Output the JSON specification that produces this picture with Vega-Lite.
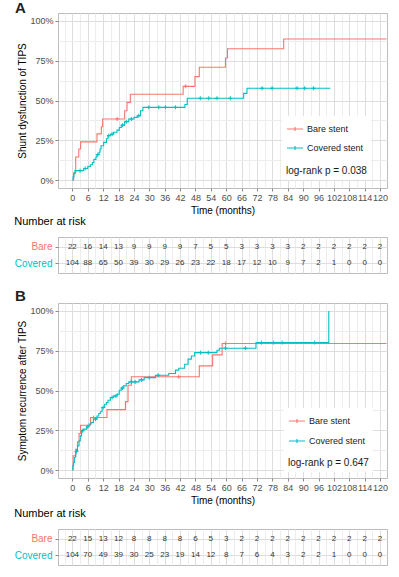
{
  "$schema": "https://vega.github.io/schema/vega-lite/v6.json",
  "background": "white",
  "padding": {"left": 13, "top": 0, "right": 0, "bottom": 0},
  "spacing": 14,
  "resolve": {"scale": {"x": "independent", "y": "independent", "color": "independent"}, "axis": {"x": "independent", "y": "independent"}, "legend": {"color": "independent"}},
  "config": {
    "font": "Liberation Sans",
    "view": {"stroke": "#BDBDBD", "strokeWidth": 1},
    "axis": {"labelFont": "Liberation Sans", "labelFontSize": 9, "labelColor": "#4D4D4D", "titleFont": "Liberation Sans", "titleFontSize": 10, "titleFontWeight": "normal", "titleColor": "#000000", "tickColor": "#888888", "tickSize": 3, "domain": false, "labelOverlap": false, "labelFlush": false},
    "title": {"font": "Liberation Sans"},
    "legend": {"labelFont": "Liberation Sans", "titleFont": "Liberation Sans"}
  },
  "datasets": {
    "a": [
      {"g": "Bare stent", "t": 0, "s": 0, "c": 0},
      {"g": "Bare stent", "t": 0.5, "s": 4.5, "c": 0},
      {"g": "Bare stent", "t": 1.3, "s": 14.5, "c": 0},
      {"g": "Bare stent", "t": 2.5, "s": 19.5, "c": 0},
      {"g": "Bare stent", "t": 3.2, "s": 24, "c": 0},
      {"g": "Bare stent", "t": 9.6, "s": 29, "c": 0},
      {"g": "Bare stent", "t": 11.3, "s": 33.5, "c": 0},
      {"g": "Bare stent", "t": 11.8, "s": 38.4, "c": 0},
      {"g": "Bare stent", "t": 17.5, "s": 38.4, "c": 1},
      {"g": "Bare stent", "t": 20.4, "s": 43.6, "c": 0},
      {"g": "Bare stent", "t": 21.3, "s": 48.8, "c": 0},
      {"g": "Bare stent", "t": 22.6, "s": 53.9, "c": 0},
      {"g": "Bare stent", "t": 43.2, "s": 58.9, "c": 0},
      {"g": "Bare stent", "t": 44.2, "s": 58.9, "c": 1},
      {"g": "Bare stent", "t": 47.8, "s": 65, "c": 0},
      {"g": "Bare stent", "t": 49.5, "s": 70.9, "c": 0},
      {"g": "Bare stent", "t": 59.7, "s": 76.7, "c": 0},
      {"g": "Bare stent", "t": 60.5, "s": 82.5, "c": 0},
      {"g": "Bare stent", "t": 82.4, "s": 88.7, "c": 0},
      {"g": "Bare stent", "t": 122.5, "s": 88.7, "c": 0},
      {"g": "Covered stent", "t": 0, "s": 0, "c": 0},
      {"g": "Covered stent", "t": 0.3, "s": 2, "c": 0},
      {"g": "Covered stent", "t": 0.6, "s": 4, "c": 0},
      {"g": "Covered stent", "t": 1, "s": 5.9, "c": 0},
      {"g": "Covered stent", "t": 3, "s": 5.9, "c": 1},
      {"g": "Covered stent", "t": 4.4, "s": 7.3, "c": 0},
      {"g": "Covered stent", "t": 5, "s": 7.3, "c": 1},
      {"g": "Covered stent", "t": 6, "s": 8.5, "c": 0},
      {"g": "Covered stent", "t": 7, "s": 9.6, "c": 0},
      {"g": "Covered stent", "t": 7.8, "s": 11, "c": 0},
      {"g": "Covered stent", "t": 8.4, "s": 13, "c": 0},
      {"g": "Covered stent", "t": 9.2, "s": 14.5, "c": 0},
      {"g": "Covered stent", "t": 9.6, "s": 16, "c": 0},
      {"g": "Covered stent", "t": 9.9, "s": 16, "c": 1},
      {"g": "Covered stent", "t": 10.4, "s": 17.5, "c": 0},
      {"g": "Covered stent", "t": 10.8, "s": 19.5, "c": 0},
      {"g": "Covered stent", "t": 11.2, "s": 21.6, "c": 0},
      {"g": "Covered stent", "t": 12.2, "s": 23.7, "c": 0},
      {"g": "Covered stent", "t": 13.3, "s": 26, "c": 0},
      {"g": "Covered stent", "t": 13.9, "s": 27.9, "c": 0},
      {"g": "Covered stent", "t": 14.2, "s": 27.9, "c": 1},
      {"g": "Covered stent", "t": 14.8, "s": 28.8, "c": 0},
      {"g": "Covered stent", "t": 15.5, "s": 28.8, "c": 1},
      {"g": "Covered stent", "t": 16.1, "s": 30, "c": 0},
      {"g": "Covered stent", "t": 17.4, "s": 31.4, "c": 0},
      {"g": "Covered stent", "t": 18.3, "s": 33, "c": 0},
      {"g": "Covered stent", "t": 19.1, "s": 34.5, "c": 0},
      {"g": "Covered stent", "t": 19.6, "s": 34.5, "c": 1},
      {"g": "Covered stent", "t": 20.4, "s": 36.7, "c": 0},
      {"g": "Covered stent", "t": 21, "s": 36.7, "c": 1},
      {"g": "Covered stent", "t": 22, "s": 38.4, "c": 0},
      {"g": "Covered stent", "t": 23, "s": 38.4, "c": 1},
      {"g": "Covered stent", "t": 24, "s": 39.4, "c": 0},
      {"g": "Covered stent", "t": 25.3, "s": 40.4, "c": 0},
      {"g": "Covered stent", "t": 25.9, "s": 40.4, "c": 1},
      {"g": "Covered stent", "t": 26.6, "s": 43.6, "c": 0},
      {"g": "Covered stent", "t": 27.5, "s": 45.7, "c": 0},
      {"g": "Covered stent", "t": 29.8, "s": 45.7, "c": 1},
      {"g": "Covered stent", "t": 33.7, "s": 45.7, "c": 1},
      {"g": "Covered stent", "t": 36.3, "s": 45.7, "c": 1},
      {"g": "Covered stent", "t": 40.2, "s": 45.7, "c": 1},
      {"g": "Covered stent", "t": 43.9, "s": 47.5, "c": 0},
      {"g": "Covered stent", "t": 44.8, "s": 51.4, "c": 0},
      {"g": "Covered stent", "t": 49.9, "s": 51.4, "c": 1},
      {"g": "Covered stent", "t": 53.2, "s": 51.4, "c": 1},
      {"g": "Covered stent", "t": 56.4, "s": 51.4, "c": 1},
      {"g": "Covered stent", "t": 61.6, "s": 51.4, "c": 1},
      {"g": "Covered stent", "t": 66.8, "s": 54.5, "c": 0},
      {"g": "Covered stent", "t": 68.1, "s": 57.7, "c": 0},
      {"g": "Covered stent", "t": 74, "s": 57.7, "c": 1},
      {"g": "Covered stent", "t": 77.9, "s": 57.7, "c": 1},
      {"g": "Covered stent", "t": 87.6, "s": 57.7, "c": 1},
      {"g": "Covered stent", "t": 90.6, "s": 57.7, "c": 1},
      {"g": "Covered stent", "t": 94.1, "s": 57.7, "c": 1},
      {"g": "Covered stent", "t": 100.6, "s": 57.7, "c": 0}
    ],
    "b": [
      {"g": "Bare stent", "t": 0, "s": 0, "c": 0},
      {"g": "Bare stent", "t": 0.3, "s": 9, "c": 0},
      {"g": "Bare stent", "t": 1.3, "s": 13, "c": 0},
      {"g": "Bare stent", "t": 2, "s": 17.8, "c": 0},
      {"g": "Bare stent", "t": 2.6, "s": 23, "c": 0},
      {"g": "Bare stent", "t": 3.2, "s": 28.2, "c": 0},
      {"g": "Bare stent", "t": 7.1, "s": 33, "c": 0},
      {"g": "Bare stent", "t": 8.3, "s": 33, "c": 1},
      {"g": "Bare stent", "t": 13.5, "s": 38, "c": 0},
      {"g": "Bare stent", "t": 20.7, "s": 43, "c": 0},
      {"g": "Bare stent", "t": 21.7, "s": 53.3, "c": 0},
      {"g": "Bare stent", "t": 23, "s": 58.6, "c": 0},
      {"g": "Bare stent", "t": 41.5, "s": 58.6, "c": 1},
      {"g": "Bare stent", "t": 49.5, "s": 65.5, "c": 0},
      {"g": "Bare stent", "t": 54.7, "s": 72.4, "c": 0},
      {"g": "Bare stent", "t": 58.4, "s": 79.5, "c": 0},
      {"g": "Bare stent", "t": 59.7, "s": 79.5, "c": 1},
      {"g": "Bare stent", "t": 122.5, "s": 79.5, "c": 0},
      {"g": "Covered stent", "t": 0, "s": 0, "c": 0},
      {"g": "Covered stent", "t": 0.2, "s": 3, "c": 0},
      {"g": "Covered stent", "t": 0.5, "s": 4.8, "c": 0},
      {"g": "Covered stent", "t": 0.8, "s": 8, "c": 0},
      {"g": "Covered stent", "t": 1.3, "s": 11.7, "c": 0},
      {"g": "Covered stent", "t": 1.6, "s": 11.7, "c": 1},
      {"g": "Covered stent", "t": 2, "s": 15.2, "c": 0},
      {"g": "Covered stent", "t": 2.6, "s": 18.4, "c": 0},
      {"g": "Covered stent", "t": 3.1, "s": 21.5, "c": 0},
      {"g": "Covered stent", "t": 3.6, "s": 24.7, "c": 0},
      {"g": "Covered stent", "t": 4, "s": 24.7, "c": 1},
      {"g": "Covered stent", "t": 4.4, "s": 25.7, "c": 0},
      {"g": "Covered stent", "t": 5.6, "s": 27.2, "c": 0},
      {"g": "Covered stent", "t": 6, "s": 27.2, "c": 1},
      {"g": "Covered stent", "t": 6.5, "s": 28.9, "c": 0},
      {"g": "Covered stent", "t": 7.3, "s": 29.9, "c": 0},
      {"g": "Covered stent", "t": 8.2, "s": 32, "c": 0},
      {"g": "Covered stent", "t": 9, "s": 32, "c": 1},
      {"g": "Covered stent", "t": 9.6, "s": 34, "c": 0},
      {"g": "Covered stent", "t": 10.3, "s": 35.5, "c": 0},
      {"g": "Covered stent", "t": 10.9, "s": 36.6, "c": 0},
      {"g": "Covered stent", "t": 11.6, "s": 39.3, "c": 0},
      {"g": "Covered stent", "t": 12, "s": 39.3, "c": 1},
      {"g": "Covered stent", "t": 12.6, "s": 41.4, "c": 0},
      {"g": "Covered stent", "t": 13.3, "s": 42.5, "c": 0},
      {"g": "Covered stent", "t": 13.9, "s": 43.9, "c": 0},
      {"g": "Covered stent", "t": 14.8, "s": 45.6, "c": 0},
      {"g": "Covered stent", "t": 15.5, "s": 45.6, "c": 1},
      {"g": "Covered stent", "t": 16.1, "s": 46.6, "c": 0},
      {"g": "Covered stent", "t": 17, "s": 46.6, "c": 1},
      {"g": "Covered stent", "t": 17.4, "s": 47.7, "c": 0},
      {"g": "Covered stent", "t": 18.3, "s": 50.2, "c": 0},
      {"g": "Covered stent", "t": 19.1, "s": 51.5, "c": 0},
      {"g": "Covered stent", "t": 19.5, "s": 51.5, "c": 1},
      {"g": "Covered stent", "t": 20, "s": 52.9, "c": 0},
      {"g": "Covered stent", "t": 21, "s": 54.4, "c": 0},
      {"g": "Covered stent", "t": 22, "s": 55.4, "c": 0},
      {"g": "Covered stent", "t": 23, "s": 55.4, "c": 1},
      {"g": "Covered stent", "t": 24.5, "s": 55.4, "c": 1},
      {"g": "Covered stent", "t": 26, "s": 56.7, "c": 0},
      {"g": "Covered stent", "t": 27, "s": 56.7, "c": 1},
      {"g": "Covered stent", "t": 28, "s": 58.1, "c": 0},
      {"g": "Covered stent", "t": 30, "s": 58.1, "c": 1},
      {"g": "Covered stent", "t": 32.4, "s": 59.6, "c": 0},
      {"g": "Covered stent", "t": 33.5, "s": 59.6, "c": 1},
      {"g": "Covered stent", "t": 37.6, "s": 60.7, "c": 0},
      {"g": "Covered stent", "t": 40.2, "s": 62.8, "c": 0},
      {"g": "Covered stent", "t": 41.5, "s": 64, "c": 0},
      {"g": "Covered stent", "t": 43.8, "s": 66.5, "c": 0},
      {"g": "Covered stent", "t": 45.1, "s": 69.7, "c": 0},
      {"g": "Covered stent", "t": 46.4, "s": 71.7, "c": 0},
      {"g": "Covered stent", "t": 47.7, "s": 73.8, "c": 0},
      {"g": "Covered stent", "t": 50, "s": 73.8, "c": 1},
      {"g": "Covered stent", "t": 53, "s": 73.8, "c": 1},
      {"g": "Covered stent", "t": 56.4, "s": 75.3, "c": 0},
      {"g": "Covered stent", "t": 57.3, "s": 76.6, "c": 0},
      {"g": "Covered stent", "t": 59.7, "s": 76.6, "c": 1},
      {"g": "Covered stent", "t": 67.5, "s": 76.6, "c": 1},
      {"g": "Covered stent", "t": 71.6, "s": 80.1, "c": 0},
      {"g": "Covered stent", "t": 73.7, "s": 80.1, "c": 1},
      {"g": "Covered stent", "t": 78.5, "s": 80.1, "c": 1},
      {"g": "Covered stent", "t": 81.8, "s": 80.1, "c": 1},
      {"g": "Covered stent", "t": 94.5, "s": 80.1, "c": 1},
      {"g": "Covered stent", "t": 100, "s": 100, "c": 0}
    ],
    "ra": [
      {"g": "Bare", "t": 0, "n": 22}, {"g": "Bare", "t": 6, "n": 16}, {"g": "Bare", "t": 12, "n": 14}, {"g": "Bare", "t": 18, "n": 13}, {"g": "Bare", "t": 24, "n": 9}, {"g": "Bare", "t": 30, "n": 9}, {"g": "Bare", "t": 36, "n": 9}, {"g": "Bare", "t": 42, "n": 9}, {"g": "Bare", "t": 48, "n": 7}, {"g": "Bare", "t": 54, "n": 5}, {"g": "Bare", "t": 60, "n": 5}, {"g": "Bare", "t": 66, "n": 3}, {"g": "Bare", "t": 72, "n": 3}, {"g": "Bare", "t": 78, "n": 3}, {"g": "Bare", "t": 84, "n": 3}, {"g": "Bare", "t": 90, "n": 2}, {"g": "Bare", "t": 96, "n": 2}, {"g": "Bare", "t": 102, "n": 2}, {"g": "Bare", "t": 108, "n": 2}, {"g": "Bare", "t": 114, "n": 2}, {"g": "Bare", "t": 120, "n": 2},
      {"g": "Covered", "t": 0, "n": 104}, {"g": "Covered", "t": 6, "n": 88}, {"g": "Covered", "t": 12, "n": 65}, {"g": "Covered", "t": 18, "n": 50}, {"g": "Covered", "t": 24, "n": 39}, {"g": "Covered", "t": 30, "n": 30}, {"g": "Covered", "t": 36, "n": 29}, {"g": "Covered", "t": 42, "n": 26}, {"g": "Covered", "t": 48, "n": 23}, {"g": "Covered", "t": 54, "n": 22}, {"g": "Covered", "t": 60, "n": 18}, {"g": "Covered", "t": 66, "n": 17}, {"g": "Covered", "t": 72, "n": 12}, {"g": "Covered", "t": 78, "n": 10}, {"g": "Covered", "t": 84, "n": 9}, {"g": "Covered", "t": 90, "n": 7}, {"g": "Covered", "t": 96, "n": 2}, {"g": "Covered", "t": 102, "n": 1}, {"g": "Covered", "t": 108, "n": 0}, {"g": "Covered", "t": 114, "n": 0}, {"g": "Covered", "t": 120, "n": 0}
    ],
    "rb": [
      {"g": "Bare", "t": 0, "n": 22}, {"g": "Bare", "t": 6, "n": 15}, {"g": "Bare", "t": 12, "n": 13}, {"g": "Bare", "t": 18, "n": 12}, {"g": "Bare", "t": 24, "n": 8}, {"g": "Bare", "t": 30, "n": 8}, {"g": "Bare", "t": 36, "n": 8}, {"g": "Bare", "t": 42, "n": 8}, {"g": "Bare", "t": 48, "n": 6}, {"g": "Bare", "t": 54, "n": 5}, {"g": "Bare", "t": 60, "n": 3}, {"g": "Bare", "t": 66, "n": 2}, {"g": "Bare", "t": 72, "n": 2}, {"g": "Bare", "t": 78, "n": 2}, {"g": "Bare", "t": 84, "n": 2}, {"g": "Bare", "t": 90, "n": 2}, {"g": "Bare", "t": 96, "n": 2}, {"g": "Bare", "t": 102, "n": 2}, {"g": "Bare", "t": 108, "n": 2}, {"g": "Bare", "t": 114, "n": 2}, {"g": "Bare", "t": 120, "n": 2},
      {"g": "Covered", "t": 0, "n": 104}, {"g": "Covered", "t": 6, "n": 70}, {"g": "Covered", "t": 12, "n": 49}, {"g": "Covered", "t": 18, "n": 39}, {"g": "Covered", "t": 24, "n": 30}, {"g": "Covered", "t": 30, "n": 25}, {"g": "Covered", "t": 36, "n": 23}, {"g": "Covered", "t": 42, "n": 19}, {"g": "Covered", "t": 48, "n": 14}, {"g": "Covered", "t": 54, "n": 12}, {"g": "Covered", "t": 60, "n": 8}, {"g": "Covered", "t": 66, "n": 7}, {"g": "Covered", "t": 72, "n": 6}, {"g": "Covered", "t": 78, "n": 4}, {"g": "Covered", "t": 84, "n": 3}, {"g": "Covered", "t": 90, "n": 2}, {"g": "Covered", "t": 96, "n": 2}, {"g": "Covered", "t": 102, "n": 1}, {"g": "Covered", "t": 108, "n": 0}, {"g": "Covered", "t": 114, "n": 0}, {"g": "Covered", "t": 120, "n": 0}
    ]
  },
  "vconcat": [
    {
      "bounds": "flush",
      "spacing": 49,
      "resolve": {"scale": {"x": "independent", "y": "independent"}, "axis": {"x": "independent", "y": "independent"}},
      "vconcat": [
        {
          "width": 329, "height": 175,
          "title": {"text": "A", "anchor": "start", "frame": "bounds", "fontSize": 15, "fontWeight": "bold", "offset": -3, "dx": -3, "color": "#222222"},
          "data": {"name": "a"},
          "encoding": {
            "x": {"field": "t", "type": "quantitative", "scale": {"domain": [-5.6, 122.7], "nice": false, "zero": false},
              "axis": {"values": [-3, 0, 3, 6, 9, 12, 15, 18, 21, 24, 27, 30, 33, 36, 39, 42, 45, 48, 51, 54, 57, 60, 63, 66, 69, 72, 75, 78, 81, 84, 87, 90, 93, 96, 99, 102, 105, 108, 111, 114, 117, 120],
                "labelExpr": "datum.value % 6 === 0 ? datum.label : ''", "title": "Time (months)", "titlePadding": 3, "labelPadding": 2,
                "grid": true, "gridColor": {"condition": {"test": "datum.value % 6 === 0", "value": "#DEDEDE"}, "value": "#EDEDED"},
                "tickOpacity": {"condition": {"test": "datum.value % 6 !== 0", "value": 0}, "value": 1}}},
            "y": {"field": "s", "type": "quantitative", "scale": {"domain": [-5, 105], "nice": false, "zero": false},
              "axis": {"values": [0, 12.5, 25, 37.5, 50, 62.5, 75, 87.5, 100], "labelExpr": "datum.value % 25 === 0 ? datum.value + '%' : ''", "title": "Shunt dysfunction of TIPS", "titlePadding": 2, "labelPadding": 2,
                "grid": true, "gridColor": {"condition": {"test": "datum.value % 25 === 0", "value": "#DEDEDE"}, "value": "#EDEDED"},
                "tickOpacity": {"condition": {"test": "datum.value % 25 !== 0", "value": 0}, "value": 1}}},
            "color": {"field": "g", "type": "nominal", "scale": {"domain": ["Bare stent", "Covered stent"], "range": ["#F8766D", "#00BFC4"]},
              "legend": {"orient": "none", "legendX": 224, "legendY": 103, "title": "log-rank p = 0.038", "titleOrient": "bottom", "titleAnchor": "start", "titleFontSize": 10, "titleFontWeight": "normal", "titleColor": "#1A1A1A", "titlePadding": 13, "symbolType": "M-1,0H1M0,-0.25V0.25", "symbolSize": 256, "symbolStrokeWidth": 1.1, "labelFontSize": 9, "labelColor": "#1A1A1A", "fillColor": "white", "padding": 4, "rowPadding": 5, "labelOffset": 3}}
          },
          "layer": [
            {"mark": {"type": "line", "interpolate": "step-after", "strokeWidth": 1.1}},
            {
              "transform": [{"filter": "datum.c == 1"}],
              "mark": {"type": "point", "shape": "M-1,0H1M0,-1V1", "size": 16, "filled": false, "strokeWidth": 1, "opacity": 1}
            }
          ]
        },
        {
          "width": 329, "height": 36,
          "title": {"text": "Number at risk", "anchor": "start", "fontSize": 11, "fontWeight": "normal", "offset": 10, "color": "#000000"},
          "data": {"name": "ra"},
          "mark": {"type": "text", "fontSize": 8, "color": "#333333"},
          "encoding": {
            "x": {"field": "t", "type": "quantitative", "scale": {"domain": [-5.6, 122.7], "nice": false, "zero": false},
              "axis": {"values": [-3, 0, 3, 6, 9, 12, 15, 18, 21, 24, 27, 30, 33, 36, 39, 42, 45, 48, 51, 54, 57, 60, 63, 66, 69, 72, 75, 78, 81, 84, 87, 90, 93, 96, 99, 102, 105, 108, 111, 114, 117, 120],
                "labels": false, "ticks": false, "title": null, "grid": true, "gridColor": {"condition": {"test": "datum.value % 6 === 0", "value": "#DEDEDE"}, "value": "#EDEDED"}}},
            "y": {"field": "g", "type": "nominal", "sort": ["Bare", "Covered"], "scale": {"padding": 0.6},
              "axis": {"title": null, "grid": true, "gridColor": "#DEDEDE", "labelFontSize": 10, "labelPadding": 3, "tickSize": 3,
                "labelColor": {"condition": {"test": "datum.value === 'Bare'", "value": "#F8766D"}, "value": "#00BFC4"}}},
            "text": {"field": "n", "type": "quantitative"}
          }
        }
      ]
    },
    {
      "bounds": "flush",
      "spacing": 51,
      "resolve": {"scale": {"x": "independent", "y": "independent"}, "axis": {"x": "independent", "y": "independent"}},
      "vconcat": [
        {
          "width": 329, "height": 175,
          "title": {"text": "B", "anchor": "start", "frame": "bounds", "fontSize": 15, "fontWeight": "bold", "offset": -1, "dx": -3, "color": "#222222"},
          "data": {"name": "b"},
          "encoding": {
            "x": {"field": "t", "type": "quantitative", "scale": {"domain": [-5.6, 122.7], "nice": false, "zero": false},
              "axis": {"values": [-3, 0, 3, 6, 9, 12, 15, 18, 21, 24, 27, 30, 33, 36, 39, 42, 45, 48, 51, 54, 57, 60, 63, 66, 69, 72, 75, 78, 81, 84, 87, 90, 93, 96, 99, 102, 105, 108, 111, 114, 117, 120],
                "labelExpr": "datum.value % 6 === 0 ? datum.label : ''", "title": "Time (months)", "titlePadding": 3, "labelPadding": 2,
                "grid": true, "gridColor": {"condition": {"test": "datum.value % 6 === 0", "value": "#DEDEDE"}, "value": "#EDEDED"},
                "tickOpacity": {"condition": {"test": "datum.value % 6 !== 0", "value": 0}, "value": 1}}},
            "y": {"field": "s", "type": "quantitative", "scale": {"domain": [-5, 105], "nice": false, "zero": false},
              "axis": {"values": [0, 12.5, 25, 37.5, 50, 62.5, 75, 87.5, 100], "labelExpr": "datum.value % 25 === 0 ? datum.value + '%' : ''", "title": "Symptom recurrence after TIPS", "titlePadding": 2, "labelPadding": 2,
                "grid": true, "gridColor": {"condition": {"test": "datum.value % 25 === 0", "value": "#DEDEDE"}, "value": "#EDEDED"},
                "tickOpacity": {"condition": {"test": "datum.value % 25 !== 0", "value": 0}, "value": 1}}},
            "color": {"field": "g", "type": "nominal", "scale": {"domain": ["Bare stent", "Covered stent"], "range": ["#F8766D", "#00BFC4"]},
              "legend": {"orient": "none", "legendX": 226, "legendY": 105, "title": "log-rank p = 0.647", "titleOrient": "bottom", "titleAnchor": "start", "titleFontSize": 10, "titleFontWeight": "normal", "titleColor": "#1A1A1A", "titlePadding": 12, "symbolType": "M-1,0H1M0,-0.25V0.25", "symbolSize": 256, "symbolStrokeWidth": 1.1, "labelFontSize": 9, "labelColor": "#1A1A1A", "fillColor": "white", "padding": 4, "rowPadding": 6, "labelOffset": 3}}
          },
          "layer": [
            {"mark": {"type": "line", "interpolate": "step-after", "strokeWidth": 1.1}},
            {
              "transform": [{"filter": "datum.c == 1"}],
              "mark": {"type": "point", "shape": "M-1,0H1M0,-1V1", "size": 16, "filled": false, "strokeWidth": 1, "opacity": 1}
            }
          ]
        },
        {
          "width": 329, "height": 36,
          "title": {"text": "Number at risk", "anchor": "start", "fontSize": 11, "fontWeight": "normal", "offset": 10, "color": "#000000"},
          "data": {"name": "rb"},
          "mark": {"type": "text", "fontSize": 8, "color": "#333333"},
          "encoding": {
            "x": {"field": "t", "type": "quantitative", "scale": {"domain": [-5.6, 122.7], "nice": false, "zero": false},
              "axis": {"values": [-3, 0, 3, 6, 9, 12, 15, 18, 21, 24, 27, 30, 33, 36, 39, 42, 45, 48, 51, 54, 57, 60, 63, 66, 69, 72, 75, 78, 81, 84, 87, 90, 93, 96, 99, 102, 105, 108, 111, 114, 117, 120],
                "labels": false, "ticks": false, "title": null, "grid": true, "gridColor": {"condition": {"test": "datum.value % 6 === 0", "value": "#DEDEDE"}, "value": "#EDEDED"}}},
            "y": {"field": "g", "type": "nominal", "sort": ["Bare", "Covered"], "scale": {"padding": 0.6},
              "axis": {"title": null, "grid": true, "gridColor": "#DEDEDE", "labelFontSize": 10, "labelPadding": 3, "tickSize": 3,
                "labelColor": {"condition": {"test": "datum.value === 'Bare'", "value": "#F8766D"}, "value": "#00BFC4"}}},
            "text": {"field": "n", "type": "quantitative"}
          }
        }
      ]
    }
  ]
}
